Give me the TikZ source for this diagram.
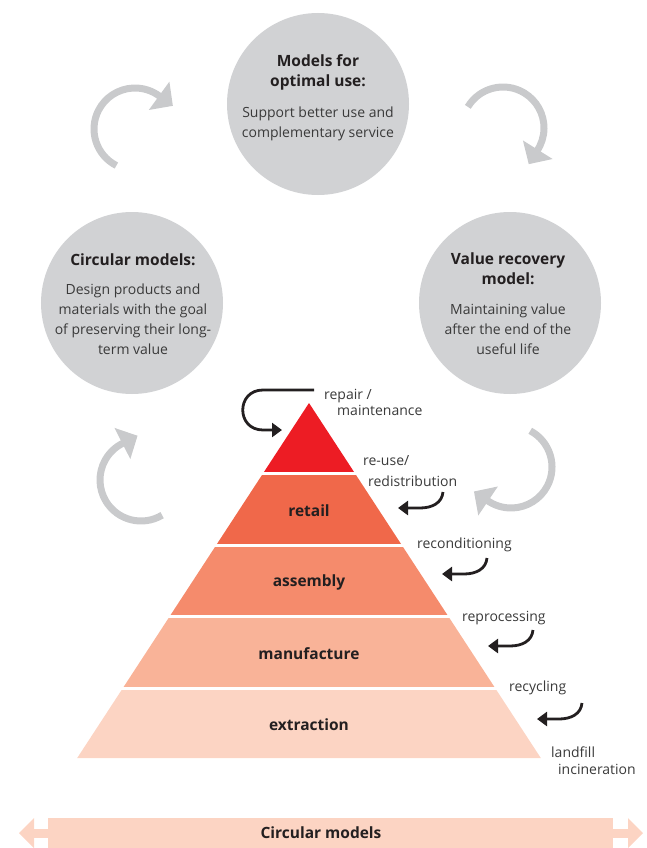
\documentclass[tikz,border=0pt]{standalone}
\usepackage{fontspec}
\setmainfont{Open Sans}
\usetikzlibrary{arrows.meta,calc}

\definecolor{ink}{HTML}{231F20}
\definecolor{bodytext}{HTML}{3A3A3A}
\definecolor{discgray}{HTML}{D1D2D4}
\definecolor{cyc}{HTML}{C9CACC}
\definecolor{lv0}{HTML}{ED1C24}
\definecolor{lv1}{HTML}{F0684A}
\definecolor{lv2}{HTML}{F58B6C}
\definecolor{lv3}{HTML}{F9B398}
\definecolor{lv4}{HTML}{FCD4C3}

% grey circular arrow: centre, start angle, end angle (clockwise on the page)
\newcommand\cyclearrow[3]{%
  \draw[cycarc] ($(#1)+(#2:41)$) arc[start angle=#2, end angle=#3+2, radius=41];
  \fill[cyc] ($(#1)+(#3:58.5)$) -- ($(#1)+(#3:23.5)$)
     -- ($(#1)+(#3:41)+(#3+90:17)$) -- cycle;}

\begin{document}
\begin{tikzpicture}[x=1bp,y=-1bp,
  modeldisc/.style={circle, fill=discgray, minimum size=182bp, inner sep=0},
  title/.style={font=\fontsize{15.5bp}{20bp}\selectfont\bfseries, text=ink, align=center, inner sep=0},
  body/.style={font=\fontsize{14bp}{20bp}\selectfont, text=bodytext, align=center, inner sep=0},
  side/.style={font=\fontsize{14bp}{17bp}\selectfont, text=bodytext, align=left, inner sep=0, anchor=west},
  level/.style={font=\fontsize{15.5bp}{20bp}\selectfont\bfseries, text=ink, inner sep=0},
  blk/.style={draw=ink, line width=2.8bp, -{Triangle[length=10bp,width=14bp]}},
  cycarc/.style={draw=cyc, line width=7bp}]
\useasboundingbox (0,0) rectangle (647,848);

% --- the three model discs ---
\node[modeldisc] (use) at (318,104) {};
\node[modeldisc] (design) at (132,303) {};
\node[modeldisc] (recover) at (510,303) {};

\node[title] (useT) at (318,72) {Models for\\optimal use:};
\node[body]  (useB) at (318,124) {Support better use and\\complementary service};
\node[title] (designT) at (133,260) {Circular models:};
\node[body]  (designB) at (133,319) {Design products and\\materials with the goal\\of preserving their long-\\term value};
\node[title] (recoverT) at (508,269) {Value recovery\\model:};
\node[body]  (recoverB) at (508,329) {Maintaining value\\after the end of the\\useful life};

% --- grey cycle arrows ---
\coordinate (g1) at (135,129);
\coordinate (g2) at (503,128);
\coordinate (g3) at (141,480);
\coordinate (g4) at (511,467);
\cyclearrow{g1}{117}{306}
\cyclearrow{g2}{211}{392}
\cyclearrow{g3}{59}{243}
\cyclearrow{g4}{298}{484}

% --- value pyramid ---
\begin{scope}
  \clip (309,403) -- (540.8,758) -- (77.2,758) -- cycle;
  \fill[lv0] (0,400) rectangle (647,472);
  \fill[lv1] (0,475) rectangle (647,544);
  \fill[lv2] (0,547) rectangle (647,615);
  \fill[lv3] (0,618) rectangle (647,687);
  \fill[lv4] (0,690) rectangle (647,760);
\end{scope}
\node[level] (retail) at (309,511) {retail};
\node[level] (assembly) at (309,582) {assembly};
\node[level] (manufacture) at (309,654) {manufacture};
\node[level] (extraction) at (309,725) {extraction};

% --- loop labels ---
\node[side, font=\fontsize{14bp}{16bp}\selectfont] (repair) at (324,402) {repair /\\\hspace*{13bp}maintenance};
\node[side, font=\fontsize{14bp}{21bp}\selectfont] (reuse) at (363,471) {re-use/\\\hspace*{5bp}redistribution};
\node[side] (recond) at (417,545) {reconditioning};
\node[side] (reproc) at (462,618) {reprocessing};
\node[side] (recyc) at (509,688) {recycling};
\node[side] (landfill) at (551,761) {landfill\\\hspace*{7bp}incineration};

% --- black return arrows ---
\coordinate (rp1) at (314,390);
\coordinate (rp2) at (282,430);
\draw[blk] (rp1) -- (263,390) .. controls (236,390) and (236,430) .. (263,430) -- (rp2);

\foreach \sx/\sy [count=\i] in {443/492, 487/558, 533/630, 582/703}{
  \coordinate (s\i) at (\sx,\sy);
  \coordinate (t\i) at (\sx-45,\sy+16);
  \draw[blk] (s\i) .. controls ($(s\i)+(-1,11)$) and ($(t\i)+(34,0)$) .. ($(t\i)+(22,0)$) -- (t\i);
}

% --- bottom double arrow bar ---
\fill[lv4] (34,829) rectangle (628,838);
\fill[lv4] (48,818) rectangle (613,848);
\fill[lv4] (19,833) -- (34,818) -- (34,848) -- cycle;
\fill[lv4] (643,833) -- (628,818) -- (628,848) -- cycle;
\node[level] (bar) at (321,833) {Circular models};
\end{tikzpicture}
\end{document}
